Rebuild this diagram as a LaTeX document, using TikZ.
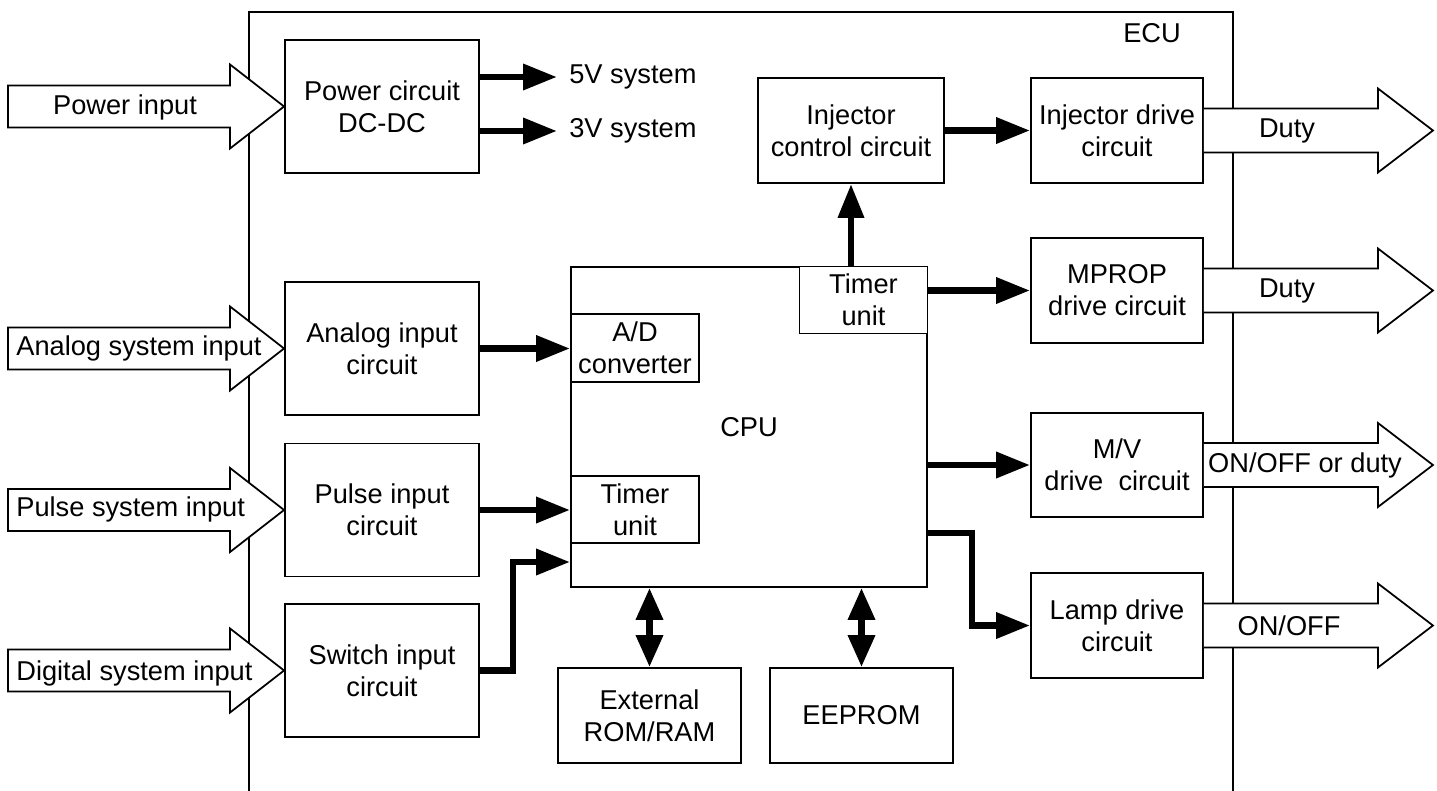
\documentclass[tikz,border=0pt]{standalone}
\usepackage{fontspec}
\setmainfont{Liberation Sans}
\usetikzlibrary{arrows.meta}

\tikzset{
  blk/.style={draw,line width=1.1pt,fill=white,align=center,inner sep=0pt},
  big/.style={blk,minimum width=3.88cm,minimum height=2.66cm},
  drv/.style={blk,minimum width=3.44cm,minimum height=2.1cm},
  sub/.style={blk,minimum width=2.56cm,minimum height=1.34cm},
  mem/.style={blk,minimum width=3.66cm,minimum height=1.9cm},
  lbl/.style={inner sep=0pt},
  thk/.style={line width=3.8pt,-{Triangle[length=0.68cm,width=0.5cm]}},
  dbl/.style={line width=3.8pt,>={Triangle[length=0.64cm,width=0.52cm]},<->},
  fat/.style={draw,fill=white,line width=1pt},
}

\begin{document}
\begin{tikzpicture}[x=0.02cm,y=-0.02cm,font=\fontsize{15.5}{18.2}\selectfont]
\useasboundingbox (0,0) rectangle (1437,791);
% ECU housing
\draw[line width=1pt] (249,791) |- (1233,12) -- (1233,791);
\node (ecu) at (1152,33) {ECU};

% input circuits
\node[big] (pwr) at (382,106.5) {Power circuit\\DC-DC};
\node[big] (ana) at (382,348.5) {Analog input\\circuit};
\node[big] (pls) at (382,510) {Pulse input\\circuit};
\node[big] (swi) at (382,670.5) {Switch input\\circuit};

\foreach \n in {pwr,ana,pls,swi}
  \draw[fat] (\n.west) -- ++(-54,-42) -- ++(0,21) -- ++(-222,0) -- ++(0,42) -- ++(222,0) -- ++(0,21) -- cycle;

\node (pin) at (125,107) {Power input};
\node[lbl,anchor=west] (ain) at (16,348) {Analog system input};
\node[lbl,anchor=west] (uin) at (16,509) {Pulse system input};
\node[lbl,anchor=west] (din) at (16,673) {Digital system input};

\node[lbl,anchor=west,inner xsep=0.24cm] (v5) at (557,77) {5V system};
\node[lbl,anchor=west,inner xsep=0.24cm] (v3) at (557,131) {3V system};
\draw[thk] (pwr.east |- v5.west) -- (v5.west);
\draw[thk] (pwr.east |- v3.west) -- (v3.west);

% CPU and its units
\node[blk,minimum width=7.12cm,minimum height=6.4cm] (cpu) at (749,427) {CPU};
\node[sub,minimum height=1.36cm] (adc) at (635,348) {A/D\\converter};
\node[sub] (tmra) at (635,509.5) {Timer\\unit};
\node[sub] (tmrb) at (863.5,300) {Timer\\unit};

% outputs
\node[blk,minimum width=3.72cm,minimum height=2.1cm] (injc) at (851,130.5) {Injector\\control circuit};
\node[drv] (injd) at (1117,130.5) {Injector drive\\circuit};
\node[drv] (mprop) at (1117,290.5) {MPROP\\drive circuit};
\node[drv,minimum height=2.08cm] (mv) at (1117,465) {M/V\\drive\ \ circuit};
\node[drv] (lamp) at (1117,625.5) {Lamp drive\\circuit};

% memories
\node[mem] (ext) at (649.5,715.5) {External\\ROM/RAM};
\node[mem] (eep) at (861.5,715.5) {EEPROM};

\draw[thk] (ana.east) -- (adc.west |- ana.east);
\draw[thk] (pls.east) -- (tmra.west |- pls.east);
\draw[thk] (swi.east) -| (513,562) -- (cpu.west |- 513,562);
\draw[thk] (injc.east) -- (injd.west);
\draw[thk] (tmrb.north -| injc.south) -- (injc.south);
\draw[thk] (tmrb.east |- mprop.west) -- (mprop.west);
\draw[thk] (cpu.east |- mv.west) -- (mv.west);
\draw[thk] (cpu.east |- 0,533) -- (972,533) |- (lamp.west);
\draw[dbl] (cpu.south -| ext.north) -- (ext.north);
\draw[dbl] (cpu.south -| eep.north) -- (eep.north);

\foreach \n/\t/\x in {injd/Duty/1287, mprop/Duty/1287, mv/{ON/OFF or duty}/1305, lamp/{ON/OFF}/1289}{
  \draw[fat] (\n.east) ++(0,-22) -- ++(174,0) -- ++(0,-20) -- ++(55,42) -- ++(-55,42) -- ++(0,-20) -- ++(-174,0);
  \node (\n-o) at (\x,0 |- \n.east) {\t};
}
\end{tikzpicture}
\end{document}
